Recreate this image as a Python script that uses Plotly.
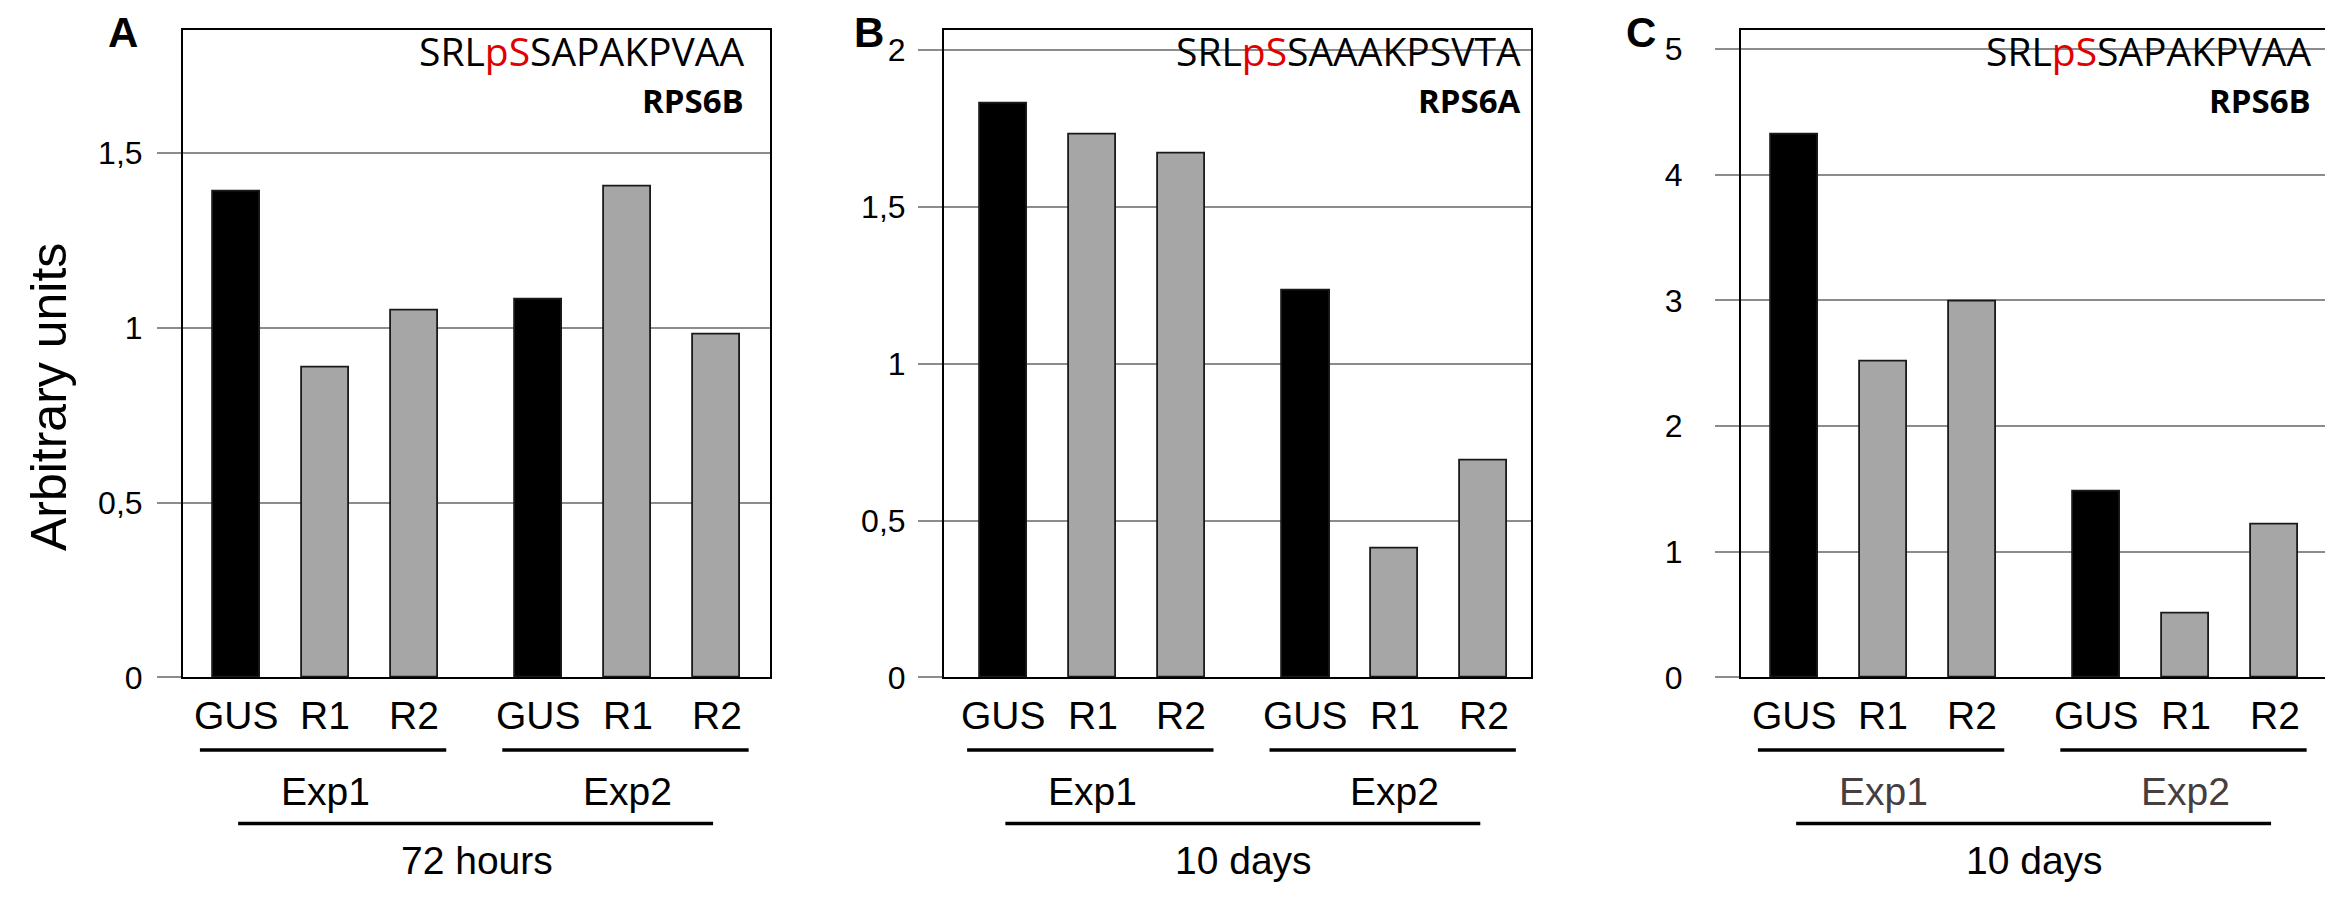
import plotly.graph_objects as go

# data
samples = ["GUS", "R1", "R2", "GUS", "R1", "R2"]
experiments = ["Exp1", "Exp2"]
periods = ["72 hours", "10 days", "10 days"]
panel_letters = ["A", "B", "C"]
peptides = ["SRL<span style='color:#e00000'>pS</span>SAPAKPVAA",
            "SRL<span style='color:#e00000'>pS</span>SAAAKPSVTA",
            "SRL<span style='color:#e00000'>pS</span>SAPAKPVAA"]
proteins = ["RPS6B", "RPS6A", "RPS6B"]
values_a = [1.39, 0.885, 1.05, 1.08, 1.405, 0.98]
values_b = [1.83, 1.73, 1.67, 1.235, 0.41, 0.69]
values_c = [4.32, 2.51, 2.99, 1.48, 0.51, 1.22]

W, H = 2333, 903
def px(x):
    return x / W
def py(y):
    return 1 - y / H

pos = [1, 2, 3, 4.4, 5.4, 6.4]
groups = [pos[:3], pos[3:]]
colors = ["black" if s == "GUS" else "#a6a6a6" for s in samples]

panels = [
    dict(vals=values_a, dom=(175, 762), xr=[0.4, 7.0], yr=[0, 1.853], dtick=0.5,
         seq_x=738, standoff=8, exp_color="black"),
    dict(vals=values_b, dom=(936, 1523), xr=[0.33, 6.93], yr=[0, 2.066], dtick=0.5,
         seq_x=1515, standoff=6, exp_color="black"),
    dict(vals=values_c, dom=(1733, 2320), xr=[0.4, 7.0], yr=[0, 5.156], dtick=1,
         seq_x=2305, standoff=26, exp_color="#473f3f"),
]

fig = go.Figure()
annotations = []
shapes = []
label_font = dict(family="Liberation Sans, Arial", size=39, color="black")

for i, p in enumerate(panels):
    n = "" if i == 0 else str(i + 1)
    xa, ya = "x" + n, "y" + n
    fig.add_trace(go.Bar(x=pos, y=p["vals"], width=0.53, xaxis=xa, yaxis=ya,
                         marker=dict(color=colors, line=dict(color="#1a1a1a", width=1.8)),
                         showlegend=False, hoverinfo="skip"))
    fig.layout["xaxis" + n] = dict(domain=[px(p["dom"][0]), px(p["dom"][1])], range=p["xr"],
                                   anchor=ya, showticklabels=False, showgrid=False, zeroline=False,
                                   showline=True, mirror=True, linecolor="black", linewidth=2,
                                   ticks="")
    fig.layout["yaxis" + n] = dict(domain=[py(683), py(22)], range=p["yr"], anchor=xa,
                                   dtick=p["dtick"], tick0=0, showgrid=True, gridcolor="#8c8c8c",
                                   gridwidth=1.5, zeroline=False, showline=True, mirror=True,
                                   linecolor="black", linewidth=2, ticks="outside", ticklen=24,
                                   tickwidth=1.5, tickcolor="#8c8c8c", ticklabelstandoff=p["standoff"],
                                   tickfont=dict(family="Liberation Sans, Arial", size=32, color="black"))
    # sample labels under bars
    for x, s in zip(pos, samples):
        annotations.append(dict(x=x, xref=xa, y=py(722), yref="paper", text=s, showarrow=False,
                                xanchor="center", yanchor="middle", font=label_font))
    # experiment brackets
    for g, e in zip(groups, experiments):
        shapes.append(dict(type="line", xref=xa, yref="paper", x0=g[0] - 0.41, x1=g[-1] + 0.36,
                           y0=py(757), y1=py(757), line=dict(color="black", width=3.5)))
        annotations.append(dict(x=g[1], xref=xa, y=py(799), yref="paper", text=e, showarrow=False,
                                xanchor="center", yanchor="middle",
                                font=dict(family="Liberation Sans, Arial", size=39, color=p["exp_color"])))
    shapes.append(dict(type="line", xref=xa, yref="paper", x0=pos[0] + 0.02, x1=pos[-1] - 0.04,
                       y0=py(832), y1=py(832), line=dict(color="black", width=3.5)))
    annotations.append(dict(x=(pos[0] + pos[-1]) / 2, xref=xa, y=py(870), yref="paper",
                            text=periods[i], showarrow=False, xanchor="center", yanchor="middle",
                            font=label_font))
    # peptide and protein
    annotations.append(dict(x=px(p["seq_x"]), xref="paper", y=py(43), yref="paper", text=peptides[i],
                            showarrow=False, xanchor="right", yanchor="middle",
                            font=dict(family="Open Sans", size=39, color="black")))
    annotations.append(dict(x=px(p["seq_x"]), xref="paper", y=py(94), yref="paper",
                            text="<b>" + proteins[i] + "</b>", showarrow=False, xanchor="right",
                            yanchor="middle", font=dict(family="Open Sans", size=33, color="black")))

# panel letters
for x, letter in zip([115, 861, 1633], panel_letters):
    annotations.append(dict(x=px(x), xref="paper", y=py(25), yref="paper", text="<b>" + letter + "</b>",
                            showarrow=False, xanchor="center", yanchor="middle",
                            font=dict(family="Liberation Sans, Arial", size=42, color="black")))

annotations.append(dict(x=px(41), xref="paper", y=py(397), yref="paper", text="Arbitrary units",
                        textangle=-90, showarrow=False, xanchor="center", yanchor="middle",
                        font=dict(family="Liberation Sans, Arial", size=50, color="black")))

fig.update_layout(width=W, height=H, margin=dict(l=0, r=0, t=0, b=0),
                  paper_bgcolor="white", plot_bgcolor="white", separators=", ",
                  annotations=annotations, shapes=shapes, bargap=0)
fig.write_html("out.html")
